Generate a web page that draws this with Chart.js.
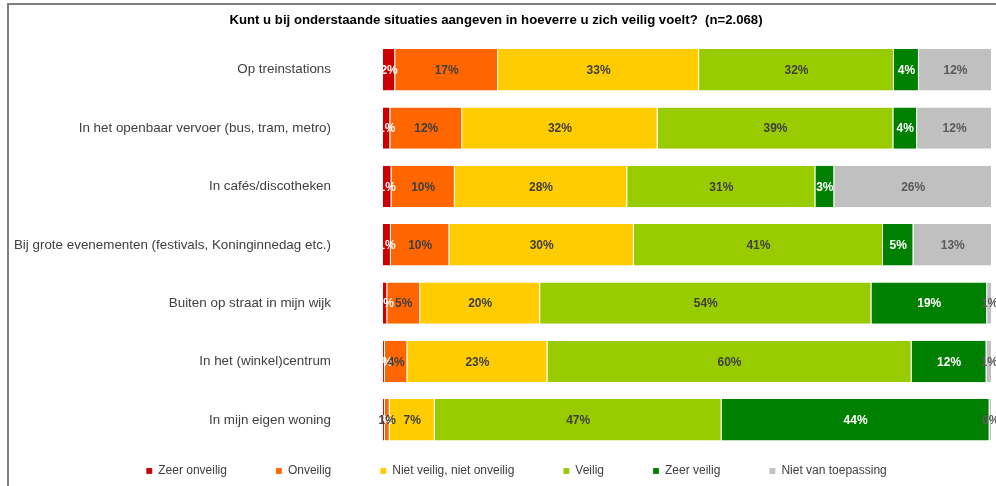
<!DOCTYPE html>
<html lang="nl">
<head>
<meta charset="UTF-8" />
<title>Veiligheidsgevoel per situatie</title>
<script src="https://cdn.jsdelivr.net/npm/chart.js@4.4.1/dist/chart.umd.min.js"></script>
<style>
  body { margin: 0; background: #fff; }
  .wrap { position: relative; width: 996px; height: 486px; overflow: hidden; }
  .wrap canvas { position: absolute; left: 0; top: 0; }
  /* grijze kaderlijn links en boven */
  .frame {
    position: absolute; left: 7px; top: 3px; right: 0; bottom: -4px;
    border-top: 2px solid #7f7f7f; border-left: 2px solid #7f7f7f;
    pointer-events: none;
  }
</style>
</head>
<body>
<div class="wrap">
  <canvas id="chart" width="996" height="486"></canvas>
  <div class="frame"></div>
</div>
<script>
  const situaties = [
    "Op treinstations",
    "In het openbaar vervoer (bus, tram, metro)",
    "In cafés/discotheken",
    "Bij grote evenementen (festivals, Koninginnedag etc.)",
    "Buiten op straat in mijn wijk",
    "In het (winkel)centrum",
    "In mijn eigen woning",
  ];

  // percentages per antwoordcategorie (n=2.068)
  const zeerOnveilig = [2.0, 1.2, 1.4, 1.3, 0.7, 0.3, 0.3];
  const onveilig = [16.9, 11.8, 10.4, 9.6, 5.4, 3.7, 0.8];
  const nietVeiligNietOnveilig = [33.0, 32.1, 28.3, 30.3, 19.7, 23.0, 7.4];
  const veilig = [32.0, 38.7, 30.9, 40.9, 54.4, 59.8, 47.1];
  const zeerVeilig = [4.1, 3.9, 3.1, 5.0, 19.0, 12.3, 44.0];
  const nietVanToepassing = [12.0, 12.3, 25.9, 12.9, 0.8, 0.9, 0.4];

  const FONT = '"Liberation Sans", Arial, sans-serif';
  Chart.defaults.font.family = FONT;

  function serie(label, data, kleur, tekstKleur) {
    return {
      label,
      data,
      backgroundColor: kleur,
      borderColor: "rgba(255,255,255,0.7)",
      borderWidth: { left: 0, right: 1, top: 0, bottom: 0 },
      borderSkipped: false,
      labelColor: tekstKleur,
    };
  }

  // percentage midden in elk segment
  const segmentLabels = {
    id: "segmentLabels",
    afterDatasetsDraw(chart) {
      const ctx = chart.ctx;
      ctx.save();
      ctx.font = "bold 12px " + FONT;
      ctx.textAlign = "center";
      ctx.textBaseline = "middle";
      chart.data.datasets.forEach((ds, i) => {
        chart.getDatasetMeta(i).data.forEach((bar, j) => {
          ctx.fillStyle = ds.labelColor;
          ctx.fillText(Math.round(ds.data[j]) + "%", (bar.x + bar.base) / 2, bar.y + 1);
        });
      });
      ctx.restore();
    },
  };

  // legenda: brede tussenruimte, maar lage box
  const legendFit = {
    id: "legendFit",
    beforeLayout(chart) {
      const lg = chart.legend;
      if (lg && !lg.$patched) {
        const fit = lg.fit;
        lg.fit = function () {
          fit.call(this);
          this.height = 37;
        };
        lg.$patched = true;
      }
    },
    afterLayout(chart) {
      const lg = chart.legend;
      lg.top = chart.chartArea.bottom + 16 - lg.options.labels.padding;
      lg.left += 41;
    },
  };

  new Chart(document.getElementById("chart"), {
    type: "bar",
    data: {
      labels: situaties,
      datasets: [
        serie("Zeer onveilig", zeerOnveilig, "#cc0000", "#ffffff"),
        serie("Onveilig", onveilig, "#ff6600", "#404040"),
        serie("Niet veilig, niet onveilig", nietVeiligNietOnveilig, "#ffcc00", "#404040"),
        serie("Veilig", veilig, "#99cc00", "#404040"),
        serie("Zeer veilig", zeerVeilig, "#008000", "#ffffff"),
        serie("Niet van toepassing", nietVanToepassing, "#c0c0c0", "#595959"),
      ],
    },
    options: {
      indexAxis: "y",
      responsive: false,
      animation: false,
      devicePixelRatio: 1,
      layout: { padding: { left: 0, right: 4, top: 0, bottom: 0 } },
      datasets: { bar: { categoryPercentage: 1, barPercentage: 0.71 } },
      scales: {
        x: { stacked: true, min: 0, max: 100, display: false },
        y: {
          stacked: true,
          grid: { display: false, drawTicks: false },
          border: { display: false },
          ticks: { padding: 52, color: "#404040", font: { size: 13.4 } },
          afterFit(scale) {
            scale.width = 383;
            scale.paddingTop = 0;
            scale.paddingBottom = 0;
          },
        },
      },
      plugins: {
        title: {
          display: true,
          text: "Kunt u bij onderstaande situaties aangeven in hoeverre u zich veilig voelt?  (n=2.068)",
          color: "#000000",
          font: { size: 13.2, weight: "bold" },
          padding: { top: 12.3, bottom: 12.5 },
        },
        legend: {
          position: "bottom",
          labels: {
            boxWidth: 6,
            boxHeight: 6,
            padding: 49,
            color: "#404040",
            font: { size: 12 },
          },
        },
        tooltip: { enabled: false },
      },
    },
    plugins: [segmentLabels, legendFit],
  });
</script>
</body>
</html>
